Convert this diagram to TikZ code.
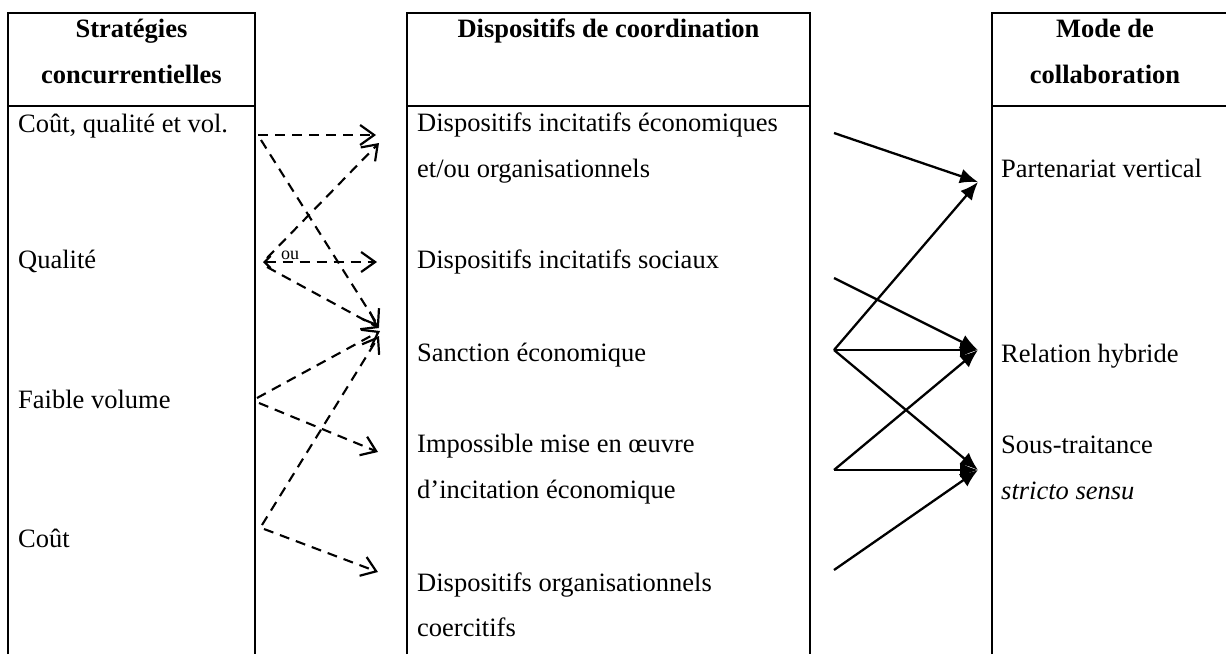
\documentclass[tikz,border=0pt]{standalone}
\usepackage{fontspec}
\setmainfont{Liberation Serif}
\usetikzlibrary{arrows.meta}
\tikzset{
  frame/.style={line width=2.6pt},
  txt/.style={anchor=base west, inner sep=0pt, font=\fontsize{26.5}{46}\selectfont},
  head/.style={anchor=base, inner sep=0pt, font=\fontsize{26.5}{46}\selectfont\bfseries},
  dasharrow/.style={line width=2.1pt, dash pattern=on 10pt off 7pt, -{Straight Barb[length=14pt,width=20pt,line width=2.2pt]}},
  solidarrow/.style={line width=2.3pt, -{Latex[length=18pt,width=15pt]}},
}
\begin{document}
\begin{tikzpicture}[x=1pt,y=-1pt]
\useasboundingbox (0,0) rectangle (1226,654);
% frames
\draw[frame] (8,654) -- (8,13) -- (255,13) -- (255,654);
\draw[frame] (8,106) -- (255,106);
\draw[frame] (407,654) -- (407,13) -- (810,13) -- (810,654);
\draw[frame] (407,106) -- (810,106);
\draw[frame] (992,654) -- (992,13) -- (1226,13);
\draw[frame] (992,106) -- (1226,106);
% headers
\node[head] (h1a) at (131.5,37) {Stratégies};
\node[head] (h1b) at (131.5,83) {concurrentielles};
\node[head] (h2) at (608.5,37) {Dispositifs de coordination};
\node[head] (h3a) at (1105,37) {Mode de};
\node[head] (h3b) at (1105,83) {collaboration};
% left texts
\node[txt] (l1) at (18,132) {Coût, qualité et vol.};
\node[txt] (l2) at (18,268) {Qualité};
\node[txt] (l3) at (18,408) {Faible volume};
\node[txt] (l4) at (18,547) {Coût};
% middle texts
\node[txt] (m1a) at (417,131) {Dispositifs incitatifs économiques};
\node[txt] (m1b) at (417,177) {et/ou organisationnels};
\node[txt] (m2) at (417,268) {Dispositifs incitatifs sociaux};
\node[txt] (m3) at (417,361) {Sanction économique};
\node[txt] (m4a) at (417,452) {Impossible mise en œuvre};
\node[txt] (m4b) at (417,498) {d’incitation économique};
\node[txt] (m5a) at (417,591) {Dispositifs organisationnels};
\node[txt] (m5b) at (417,636) {coercitifs};
% right texts
\node[txt] (r1) at (1001,177) {Partenariat vertical};
\node[txt] (r2) at (1001,362) {Relation hybride};
\node[txt] (r3a) at (1001,453) {Sous-traitance};
\node[txt] (r3b) at (1001,499) {\itshape stricto sensu};
% dashed connector points
\coordinate (pA) at (258,135);
\coordinate (pA2) at (261,140);
\coordinate (pQ) at (263,262);
\coordinate (pF) at (257,398);
\coordinate (pC) at (262,525);
\coordinate (tA) at (376,135);
\coordinate (tA2) at (379,143);
\coordinate (tS) at (377,262);
\coordinate (tE1) at (379,327);
\coordinate (tE2) at (379,328);
\coordinate (tE3) at (380,331);
\coordinate (tE4) at (379,336);
\coordinate (tI) at (378,452);
\coordinate (tD) at (378,572);
\draw[dasharrow] (pA) -- (tA);
\draw[dasharrow] (pA2) -- (tE1);
\draw[dasharrow] ([shift={(4,-4)}]pQ) -- (tA2);
\draw[dasharrow, {Straight Barb[length=6pt,width=12pt,line width=2.2pt]}-{Straight Barb[length=14pt,width=20pt,line width=2.2pt]}] (pQ) -- (tS);
\draw[dasharrow] ([shift={(4,5)}]pQ) -- (tE2);
\draw[dasharrow] (pF) -- (tE3);
\draw[dasharrow] ([shift={(2,5)}]pF) -- (tI);
\draw[dasharrow] (pC) -- (tE4);
\draw[dasharrow] ([shift={(2,4)}]pC) -- (tD);
\node[anchor=base west, inner sep=0pt, font=\fontsize{18}{20}\selectfont] (ou) at (281,259) {ou};
% solid connector points
\coordinate (s1) at (834,133);
\coordinate (s2) at (834,278);
\coordinate (s3) at (834,350);
\coordinate (s4) at (834,470);
\coordinate (s5) at (834,570);
\coordinate (tP) at (978,182);
\coordinate (tR) at (978,350);
\coordinate (tT) at (978,470);
\draw[solidarrow] (s1) -- (tP);
\draw[solidarrow] (s2) -- (tR);
\draw[solidarrow] (s3) -- (tP);
\draw[solidarrow] (s3) -- (tR);
\draw[solidarrow] (s3) -- (tT);
\draw[solidarrow] (s4) -- (tR);
\draw[solidarrow] (s4) -- (tT);
\draw[solidarrow] (s5) -- (tT);
\end{tikzpicture}
\end{document}
